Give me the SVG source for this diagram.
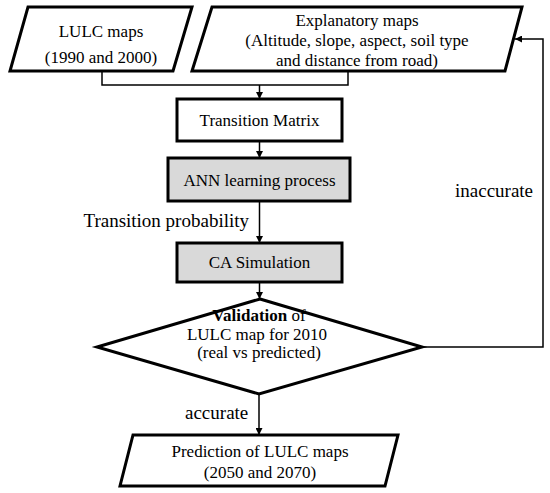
<svg xmlns="http://www.w3.org/2000/svg" width="550" height="493" viewBox="0 0 550 493">
<defs>
<marker id="ah" viewBox="0 0 10 10" refX="10" refY="5" markerWidth="7" markerHeight="7" markerUnits="userSpaceOnUse" orient="auto"><path d="M0,0 L10,5 L0,10 z" fill="#000"/></marker>
</defs>
<style>
.box{fill:#fff;stroke:#000;stroke-width:3;stroke-linejoin:miter}
.grey{fill:#d9d9d9;stroke:#000;stroke-width:3}
text{font-family:'Liberation Serif','Times New Roman',serif;fill:#000}
.t{font-size:17px;text-anchor:middle}
.lbl{font-size:19px}
.c{fill:none;stroke:#000;stroke-width:1.5}
</style>
<rect width="550" height="493" fill="#fff"/>
<g id="connectors">
<path class="c" d="M102,71 V85 H348 V71"/>
<path class="c" d="M259.5,85 V99" marker-end="url(#ah)"/>
<path class="c" d="M259.5,141 V158" marker-end="url(#ah)"/>
<path class="c" d="M259.5,201 V243" marker-end="url(#ah)"/>
<path class="c" d="M259.5,282 V299" marker-end="url(#ah)"/>
<path class="c" d="M259,394 V435" marker-end="url(#ah)"/>
<path class="c" d="M422,347 H543 V39 H515" marker-end="url(#ah)"/>
<text class="lbl" x="249" y="227" text-anchor="end">Transition probability</text>
<text class="lbl" x="455" y="197">inaccurate</text>
<text class="lbl" x="185" y="419">accurate</text>
</g>
<g id="lulc">
<polygon class="box" points="28,7 192,7 173,71 10,71"/>
<text class="t" x="101" y="37">LULC maps</text>
<text class="t" x="101" y="63">(1990 and 2000)</text>
</g>
<g id="explanatory">
<polygon class="box" points="212,7 522,7 505,71 192,71"/>
<text class="t" x="357" y="26">Explanatory maps</text>
<text class="t" x="357" y="46">(Altitude, slope, aspect, soil type</text>
<text class="t" x="357" y="66">and distance from road)</text>
</g>
<g id="transition">
<rect class="box" x="177" y="99" width="165" height="42"/>
<text class="t" x="259.5" y="126">Transition Matrix</text>
</g>
<g id="ann">
<rect class="grey" x="168" y="158" width="182" height="43"/>
<text class="t" x="259.5" y="186">ANN learning process</text>
</g>
<g id="ca">
<rect class="grey" x="177" y="243" width="165" height="39"/>
<text class="t" x="259.5" y="268">CA Simulation</text>
</g>
<g id="validation">
<polygon class="box" points="260,299 422,347 259,394 97,347"/>
<text class="t" x="259" y="321"><tspan font-weight="bold">Validation</tspan> of</text>
<text class="t" x="257" y="340">LULC map for 2010</text>
<text class="t" x="259" y="358">(real vs predicted)</text>
</g>
<g id="prediction">
<polygon class="box" points="133,435 398,435 385,486 120,486"/>
<text class="t" x="260" y="457">Prediction of LULC maps</text>
<text class="t" x="260" y="478">(2050 and 2070)</text>
</g>
</svg>
